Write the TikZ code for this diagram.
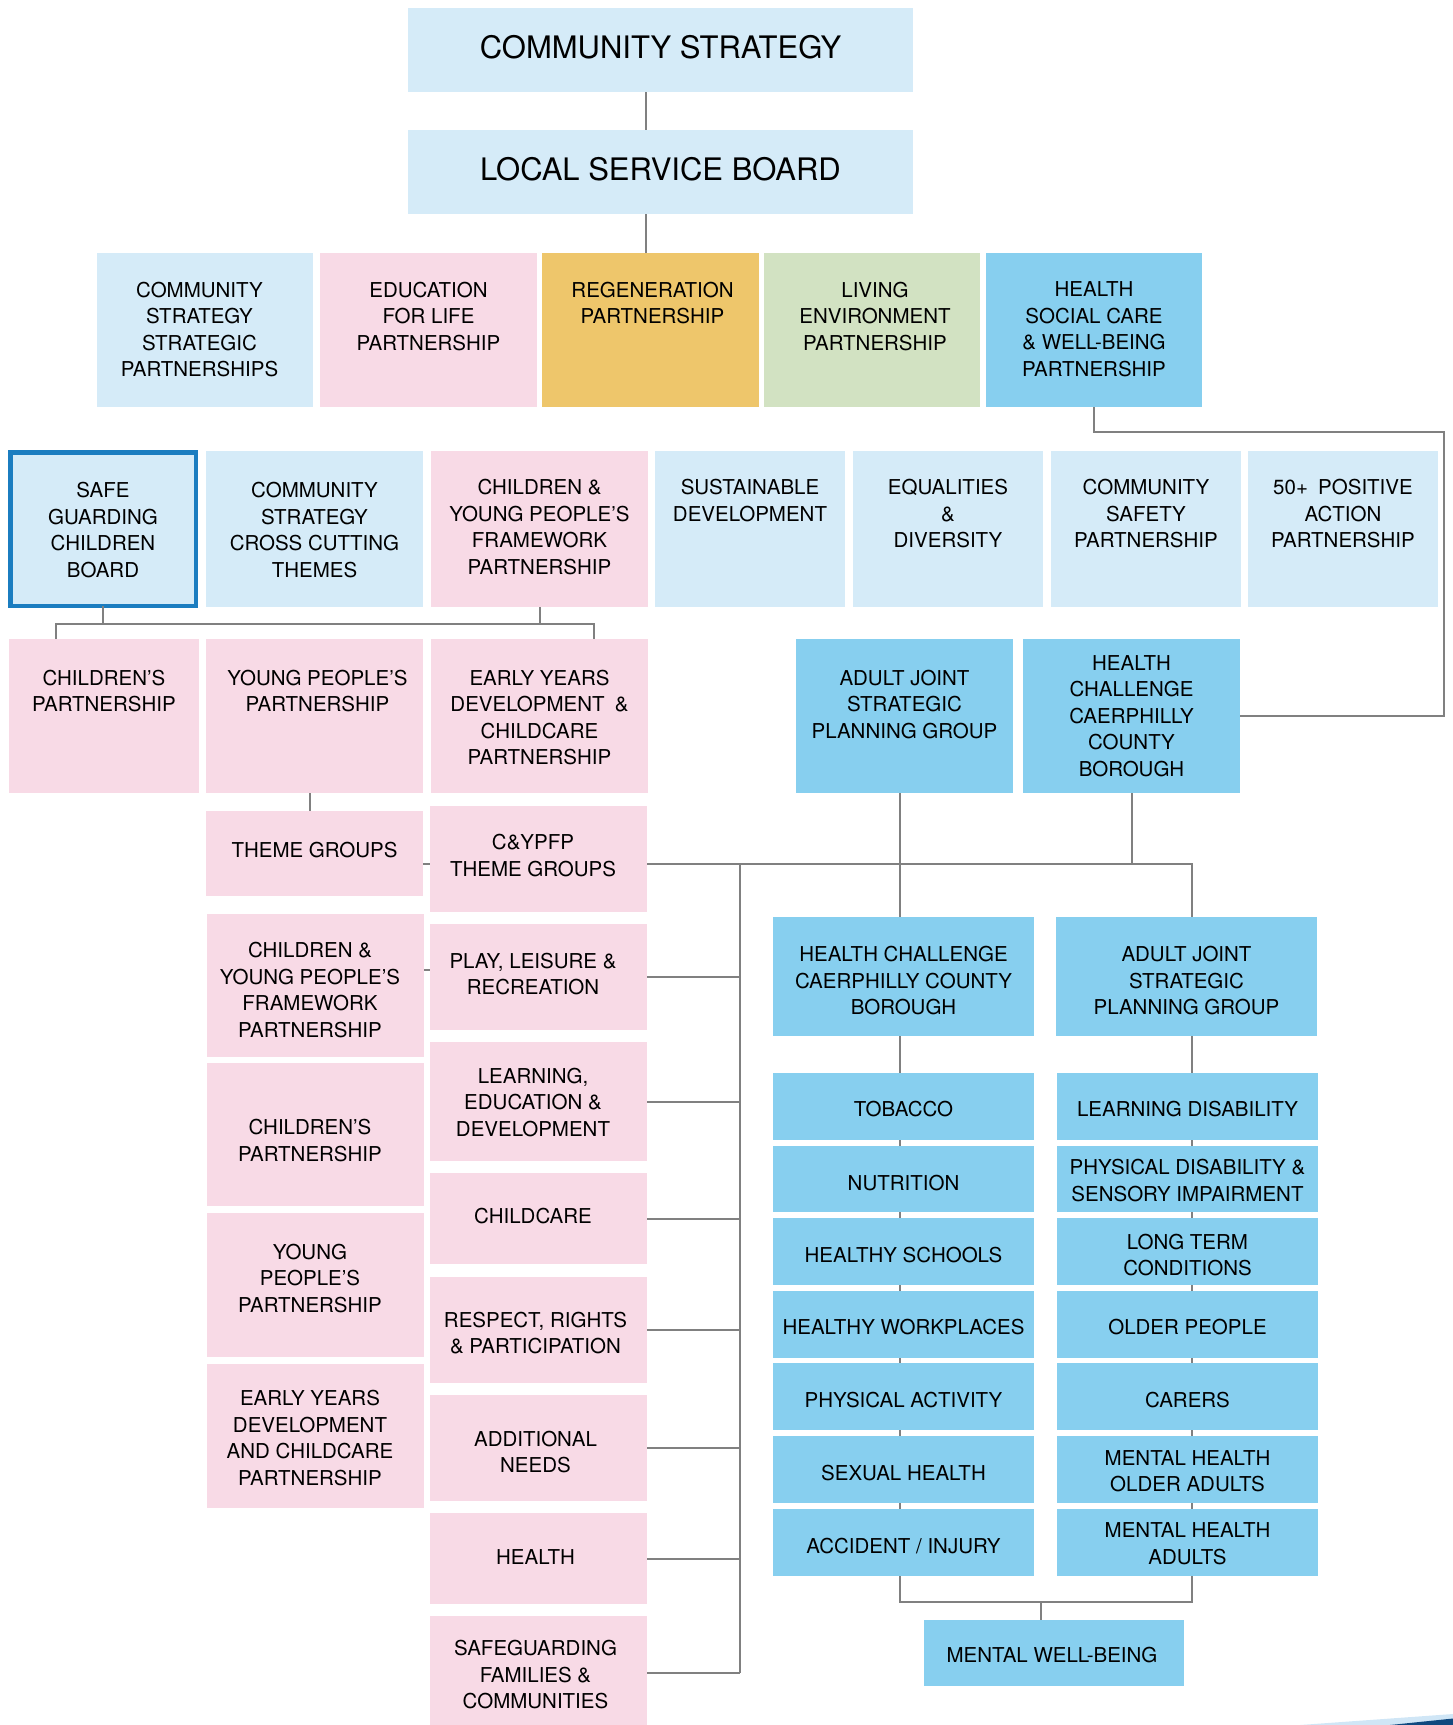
\documentclass[tikz,border=0pt]{standalone}
\usepackage{fontspec}
\setmainfont{TeX Gyre Heros}
\definecolor{cLB}{HTML}{D5EBF8}
\definecolor{cPK}{HTML}{F8DAE6}
\definecolor{cOG}{HTML}{EEC66B}
\definecolor{cGR}{HTML}{D2E2C2}
\definecolor{cMB}{HTML}{87CFEF}
\definecolor{cEdge}{HTML}{1B7DC0}
\definecolor{cLine}{HTML}{808080}
\definecolor{cSwA}{HTML}{D0E6F6}
\definecolor{cSwB}{HTML}{10497F}
\newcommand\mkbox[9][0]{%
  \pgfmathsetmacro\bw{#6-#4}\pgfmathsetmacro\bh{#7-#5}%
  \node[bxs,#3,minimum width=\bw pt,minimum height=\bh pt] (#2) at ({(#4+#6)/2},{(#5+#7)/2})
    {\hspace*{#1pt}\parbox[c][\bh pt][t]{\bw pt}{\centering\vspace*{#8pt}#9\par}\hspace*{-#1pt}};}
\tikzset{
  bxs/.style={rectangle,inner sep=0pt,outer sep=0pt,text=black,font=\fontsize{20.5}{26.5}\selectfont},
  big/.style={fill=cLB,font=\fontsize{31}{37}\selectfont},
  lb/.style={fill=cLB},
  pk/.style={fill=cPK},
  og/.style={fill=cOG},
  gr/.style={fill=cGR},
  mb/.style={fill=cMB},
  conn/.style={draw=cLine,line width=2pt}
}
\begin{document}
\begin{tikzpicture}[x=1pt,y=-1pt]
\useasboundingbox (0,0) rectangle (1453,1725);
% top
\mkbox{cs}{big}{408}{8}{913}{92}{27.4}{COMMUNITY STRATEGY}
\mkbox{lsb}{big}{408}{130}{913}{214}{27.3}{LOCAL SERVICE BOARD}
% row 3
\mkbox[-5.5]{csp}{lb}{97}{253}{313}{407}{29}{COMMUNITY\\STRATEGY\\STRATEGIC\\PARTNERSHIPS}
\mkbox{efl}{pk}{320}{253}{537}{407}{29}{EDUCATION\\FOR LIFE\\PARTNERSHIP}
\mkbox[2]{reg}{og}{542}{253}{759}{407}{29}{REGENERATION\\PARTNERSHIP}
\mkbox[3]{liv}{gr}{764}{253}{980}{407}{29}{LIVING\\ENVIRONMENT\\PARTNERSHIP}
\mkbox{hsc}{mb}{986}{253}{1202}{407}{29}{HEALTH\\SOCIAL CARE\\\& WELL-BEING\\PARTNERSHIP}
% row 4
\mkbox{sgc}{lb,draw=cEdge,line width=4.5pt}{10.25}{452.25}{195.75}{605.75}{30.4}{SAFE\\GUARDING\\CHILDREN\\BOARD}
\mkbox{cct}{lb}{206}{451}{423}{607}{31.6}{COMMUNITY\\STRATEGY\\CROSS CUTTING\\THEMES}
\mkbox{cyp}{pk}{431}{451}{648}{607}{28.3}{CHILDREN \&\\YOUNG PEOPLE’S\\FRAMEWORK\\PARTNERSHIP}
\mkbox{sus}{lb}{655}{451}{845}{607}{28.3}{SUSTAINABLE\\DEVELOPMENT}
\mkbox{eqd}{lb}{853}{451}{1043}{607}{28.3}{EQUALITIES\\\&\\DIVERSITY}
\mkbox{csf}{lb}{1051}{451}{1241}{607}{28.3}{COMMUNITY\\SAFETY\\PARTNERSHIP}
\mkbox{pos}{lb}{1248}{451}{1438}{607}{28.3}{50+\enspace POSITIVE\\ACTION\\PARTNERSHIP}
% row 5
\mkbox{chp}{pk}{9}{639}{199}{793}{31}{CHILDREN’S\\PARTNERSHIP}
\mkbox[3]{ypp}{pk}{206}{639}{423}{793}{31}{YOUNG PEOPLE’S\\PARTNERSHIP}
\mkbox{eyd}{pk}{431}{639}{648}{793}{31}{EARLY YEARS\\DEVELOPMENT\enspace\&\\CHILDCARE\\PARTNERSHIP}
\mkbox{ajs}{mb}{796}{639}{1013}{793}{31}{ADULT JOINT\\STRATEGIC\\PLANNING GROUP}
\mkbox{hcc}{mb}{1023}{639}{1240}{793}{16.3}{HEALTH\\CHALLENGE\\CAERPHILLY\\COUNTY\\BOROUGH}
% left column
\mkbox{thg}{pk}{206}{811}{423}{896}{31.5}{THEME GROUPS}
\mkbox[-5.5]{cyp2}{pk}{207}{914}{424}{1057}{28.2}{CHILDREN \&\\YOUNG PEOPLE’S\\FRAMEWORK\\PARTNERSHIP}
\mkbox[-5.5]{chp2}{pk}{207}{1063}{424}{1206}{56.6}{CHILDREN’S\\PARTNERSHIP}
\mkbox[-5.5]{ypp2}{pk}{207}{1213}{424}{1357}{31}{YOUNG\\PEOPLE’S\\PARTNERSHIP}
\mkbox[-5.5]{eyd2}{pk}{207}{1364}{424}{1508}{26.3}{EARLY YEARS\\DEVELOPMENT\\AND CHILDCARE\\PARTNERSHIP}
% middle column
\mkbox[-5.5]{tg}{pk}{430}{806}{647}{912}{28.4}{C\&YPFP\\THEME GROUPS}
\mkbox[-5.5]{plr}{pk}{430}{924}{647}{1030}{29}{PLAY, LEISURE \&\\RECREATION}
\mkbox[-5.5]{led}{pk}{430}{1042}{647}{1161}{26}{LEARNING,\\EDUCATION \&\\DEVELOPMENT}
\mkbox[-5.5]{chc}{pk}{430}{1173}{647}{1264}{35.3}{CHILDCARE}
\mkbox[-3]{rrp}{pk}{430}{1277}{647}{1383}{35}{RESPECT, RIGHTS\\\& PARTICIPATION}
\mkbox[-3]{adn}{pk}{430}{1395}{647}{1501}{36}{ADDITIONAL\\NEEDS}
\mkbox[-3]{hea}{pk}{430}{1513}{647}{1604}{36.3}{HEALTH}
\mkbox[-3]{sfc}{pk}{430}{1616}{647}{1725}{24.3}{SAFEGUARDING\\FAMILIES \&\\COMMUNITIES}
% right area
\mkbox{hcb}{mb}{773}{917}{1034}{1036}{29.6}{HEALTH CHALLENGE\\CAERPHILLY COUNTY\\BOROUGH}
\mkbox{ajg}{mb}{1056}{917}{1317}{1036}{29.6}{ADULT JOINT\\STRATEGIC\\PLANNING GROUP}
\mkbox{tob}{mb}{773}{1073}{1034}{1140}{28.6}{TOBACCO}
\mkbox{nut}{mb}{773}{1146}{1034}{1212}{29}{NUTRITION}
\mkbox{hsch}{mb}{773}{1218}{1034}{1285}{29.6}{HEALTHY SCHOOLS}
\mkbox{hwp}{mb}{773}{1291}{1034}{1358}{28.3}{HEALTHY WORKPLACES}
\mkbox{pha}{mb}{773}{1363}{1034}{1430}{29.6}{PHYSICAL ACTIVITY}
\mkbox{sxh}{mb}{773}{1436}{1034}{1503}{29.3}{SEXUAL HEALTH}
\mkbox{acc}{mb}{773}{1509}{1034}{1576}{29.3}{ACCIDENT / INJURY}
\mkbox{ld}{mb}{1057}{1073}{1318}{1140}{28.6}{LEARNING DISABILITY}
\mkbox{pds}{mb}{1057}{1146}{1318}{1212}{13.4}{PHYSICAL DISABILITY \&\\SENSORY IMPAIRMENT}
\mkbox{ltc}{mb}{1057}{1218}{1318}{1285}{16}{LONG TERM\\CONDITIONS}
\mkbox{op}{mb}{1057}{1291}{1318}{1358}{28.3}{OLDER PEOPLE}
\mkbox{car}{mb}{1057}{1363}{1318}{1430}{29.6}{CARERS}
\mkbox{mho}{mb}{1057}{1436}{1318}{1503}{14.3}{MENTAL HEALTH\\OLDER ADULTS}
\mkbox{mha}{mb}{1057}{1509}{1318}{1576}{13.6}{MENTAL HEALTH\\ADULTS}
\mkbox[-2]{mwb}{mb}{924}{1620}{1184}{1686}{27.6}{MENTAL WELL-BEING}
% helper coordinates
\coordinate (xa) at (646,0);
\coordinate (ya) at (0,431.5);
\coordinate (xr) at (1444,0);
\coordinate (yc) at (0,624);
\coordinate (xl1) at (56,0);
\coordinate (xl2) at (594,0);
\coordinate (xt) at (310,0);
\coordinate (yh) at (0,864);
\coordinate (ys) at (0,970);
\coordinate (xb) at (740,0);
\coordinate (yend) at (0,1673);
\coordinate (xh1) at (900,0);
\coordinate (xh2) at (1192,0);
\coordinate (yd) at (0,1602);
\coordinate (xm) at (1041,0);
% connectors
\draw[conn] (cs.south -| xa) -- (lsb.north -| xa);
\draw[conn] (lsb.south -| xa) -- (reg.north -| xa);
\draw[conn] (hsc.south) -- (hsc.south |- ya) -- (xr |- ya) -- (xr |- hcc.east) -- (hcc.east);
\draw[conn] (sgc.south) -- (sgc.south |- yc);
\draw[conn] (cyp.south) -- (cyp.south |- yc);
\draw[conn] (chp.north -| xl1) -- (xl1 |- yc) -- (xl2 |- yc) -- (eyd.north -| xl2);
\draw[conn] (ypp.south -| xt) -- (thg.north -| xt);
\draw[conn] (thg.east |- yh) -- (tg.west |- yh);
\draw[conn] (cyp2.east |- ys) -- (plr.west |- ys);
\draw[conn] (tg.east |- yh) -- (xh2 |- yh) -- (ajg.north -| xh2);
\draw[conn] (xb |- yh) -- (xb |- yend);
\foreach \n in {plr,led,chc,rrp,adn,hea} \draw[conn] (\n.east) -- (\n.east -| xb);
\draw[conn] (sfc.east |- yend) -- (xb |- yend);
\draw[conn] (ajs.south -| xh1) -- (hcb.north -| xh1);
\draw[conn] (hcc.south) -- (hcc.south |- yh);
\draw[conn] (hcb.south -| xh1) -- (tob.north -| xh1);
\draw[conn] (ajg.south -| xh2) -- (ld.north -| xh2);
\foreach \a/\b in {tob/nut,nut/hsch,hsch/hwp,hwp/pha,pha/sxh,sxh/acc} \draw[conn] (\a.south -| xh1) -- (\b.north -| xh1);
\foreach \a/\b in {ld/pds,pds/ltc,ltc/op,op/car,car/mho,mho/mha} \draw[conn] (\a.south -| xh2) -- (\b.north -| xh2);
\draw[conn] (acc.south -| xh1) -- (xh1 |- yd) -- (xh2 |- yd) -- (mha.south -| xh2);
\draw[conn] (xm |- yd) -- (mwb.north -| xm);
% corner swoosh
\fill[cSwA] (1300,1725) -- (1453,1714) -- (1453,1725) -- cycle;
\fill[cSwB] (1390,1725) -- (1453,1718.5) -- (1453,1725) -- cycle;
\end{tikzpicture}
\end{document}
